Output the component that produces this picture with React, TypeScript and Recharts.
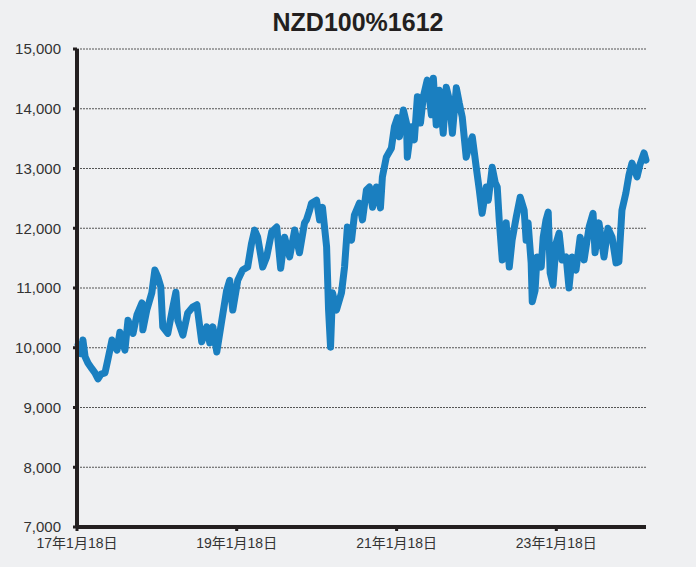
import { CartesianGrid, Line, LineChart, XAxis, YAxis } from "recharts";

// days since 2017-01-18
const dayOffsets = [
  5, 18, 27, 37, 50, 68, 82, 96, 110, 128, 141, 160, 183, 196, 219, 233, 256, 274, 297, 301,
  319, 342, 356, 370, 383, 392, 415, 438, 452, 461, 484, 506, 529, 548, 570, 593, 607, 621, 639, 662,
  684, 698, 712, 735, 757, 780, 798, 812, 826, 849, 867, 890, 913, 931, 949, 972, 995, 1017, 1040, 1049,
  1063, 1072, 1095, 1109, 1122, 1141, 1150, 1159, 1168, 1186, 1209, 1223, 1236, 1255, 1268, 1291, 1305, 1323, 1337, 1351,
  1369, 1387, 1396, 1414, 1437, 1451, 1465, 1474, 1492, 1506, 1510, 1528, 1542, 1556, 1570, 1583, 1601, 1620, 1629, 1642,
  1656, 1674, 1688, 1702, 1716, 1734, 1747, 1761, 1779, 1793, 1807, 1825, 1839, 1852, 1871, 1880, 1898, 1912, 1921, 1930,
  1944, 1962, 1976, 1989, 2008, 2026, 2044, 2053, 2062, 2076, 2081, 2094, 2103, 2122, 2131, 2144, 2154, 2163, 2176, 2190,
  2204, 2217, 2236, 2249, 2263, 2281, 2300, 2318, 2341, 2359, 2368, 2386, 2409, 2427, 2446, 2464, 2477, 2491, 2509, 2523,
  2537, 2560, 2573, 2592, 2601,
];

const navValues = [
  10050, 9900, 10130, 9850, 9745, 9650, 9580, 9480, 9560, 9580, 9800, 10130, 9960, 10260, 9960, 10460, 10240, 10550, 10750, 10300,
  10630, 10920, 11300, 11180, 11020, 10350, 10240, 10680, 10930, 10460, 10210, 10580, 10680, 10720, 10100, 10350, 10080, 10350, 9930, 10460,
  10960, 11130, 10630, 11130, 11300, 11350, 11750, 11970, 11850, 11350, 11520, 11940, 12020, 11330, 11850, 11520, 11970, 11590, 12090, 12140,
  12300, 12420, 12470, 12140, 12350, 11690, 10630, 10010, 10920, 10630, 10920, 11350, 12020, 11800, 12220, 12420, 12140, 12640, 12690, 12350,
  12690, 12340, 12860, 13190, 13340, 13700, 13850, 13530, 13980, 13760, 13190, 13700, 13480, 14200, 13760, 14200, 14480, 13900, 14510, 13730,
  14310, 13590, 14360, 14150, 13590, 14350, 14100, 13860, 13190, 13390, 13530, 13020, 12640, 12250, 12690, 12470, 13020, 12760, 12690, 12140,
  11470, 12090, 11350, 11800, 12190, 12520, 12300, 11800, 12090, 11420, 10770, 10960, 11520, 11350, 11850, 12140, 12270, 11250, 11050, 11750,
  11920, 11470, 11520, 11000, 11520, 11300, 11850, 11470, 12020, 12250, 11590, 12090, 11520, 12000, 11850, 11420, 11440, 12300, 12590, 12890,
  13090, 12860, 13060, 13260, 13140,
];

const xTicks = [0, 730, 1461, 2191];
const xTickLabels = ["17年1月18日", "19年1月18日", "21年1月18日", "23年1月18日"];
const yTicks = [7000, 8000, 9000, 10000, 11000, 12000, 13000, 14000, 15000];

const data = dayOffsets.map((d, i) => ({ d, v: navValues[i] }));

const font = '"Liberation Sans", Arial, "Noto Sans CJK JP", sans-serif';

export default function App() {
  return (
    <div style={{ position: "relative", width: 696, height: 567, background: "#eff0f2", fontFamily: font }}>
      <style>{"body{margin:0}"}</style>
      <div
        style={{
          position: "absolute",
          top: 8,
          left: 0,
          width: 716,
          textAlign: "center",
          fontSize: 25,
          fontWeight: "bold",
          color: "#231f20",
        }}
      >
        NZD100%1612
      </div>
      <LineChart width={696} height={567} data={data} margin={{ top: 49, right: 50, bottom: 0, left: 0 }}>
        <CartesianGrid vertical={false} stroke="#555" strokeDasharray="2 1" />
        <XAxis
          dataKey="d"
          type="number"
          domain={[0, 2600]}
          ticks={xTicks}
          tickFormatter={(t: number) => xTickLabels[xTicks.indexOf(t)] ?? ""}
          axisLine={{ stroke: "#231f20", strokeWidth: 4 }}
          tickLine={{ stroke: "#231f20", strokeWidth: 3 }}
          tickSize={4}
          tickMargin={7}
          height={40}
          tick={{ fill: "#333", fontSize: 14, fontFamily: font }}
          interval={0}
        />
        <YAxis
          domain={[7000, 15000]}
          ticks={yTicks}
          tickFormatter={(v: number) => v.toLocaleString("en-US")}
          axisLine={{ stroke: "#231f20", strokeWidth: 4 }}
          tickLine={{ stroke: "#231f20", strokeWidth: 3 }}
          tickSize={4}
          tickMargin={12}
          width={77}
          tick={{ fill: "#333", fontSize: 15, fontFamily: font }}
          interval={0}
        />
        <Line
          type="linear"
          dataKey="v"
          stroke="#1a7fc0"
          strokeWidth={7}
          strokeLinejoin="round"
          strokeLinecap="round"
          dot={false}
          isAnimationActive={false}
        />
      </LineChart>
    </div>
  );
}
